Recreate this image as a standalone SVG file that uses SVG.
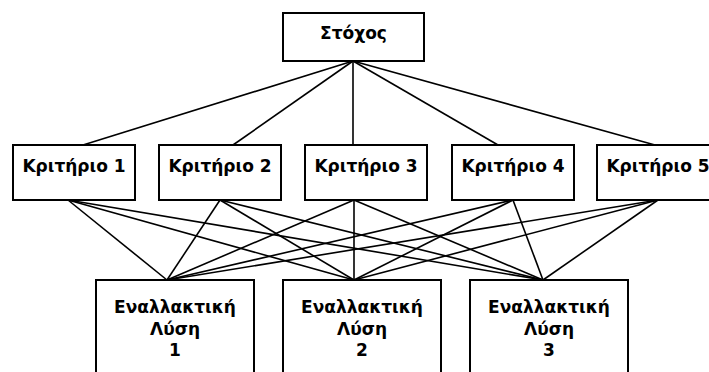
<svg xmlns="http://www.w3.org/2000/svg" width="709" height="372" viewBox="0 0 709 372">
<style>
.box{fill:#fff;stroke:#000;stroke-width:2}
.t{font-family:"DejaVu Sans",Verdana,sans-serif;font-weight:bold;font-size:17px;text-anchor:middle;fill:#000}
.c line{stroke:#000;stroke-width:1.6}
</style>
<rect width="709" height="372" fill="#fff"/>
<g class="c" id="connectors">
<line x1="353" y1="61" x2="83" y2="145"/>
<line x1="353" y1="61" x2="233" y2="145"/>
<line x1="353" y1="61" x2="353" y2="145"/>
<line x1="353" y1="61" x2="498" y2="145"/>
<line x1="353" y1="61" x2="655" y2="145"/>
<line x1="68" y1="200" x2="167" y2="280"/>
<line x1="68" y1="200" x2="354" y2="280"/>
<line x1="68" y1="200" x2="543" y2="280"/>
<line x1="220" y1="200" x2="167" y2="280"/>
<line x1="220" y1="200" x2="354" y2="280"/>
<line x1="220" y1="200" x2="543" y2="280"/>
<line x1="354" y1="200" x2="167" y2="280"/>
<line x1="354" y1="200" x2="354" y2="280"/>
<line x1="354" y1="200" x2="543" y2="280"/>
<line x1="513" y1="200" x2="167" y2="280"/>
<line x1="513" y1="200" x2="354" y2="280"/>
<line x1="513" y1="200" x2="543" y2="280"/>
<line x1="658" y1="200" x2="167" y2="280"/>
<line x1="658" y1="200" x2="354" y2="280"/>
<line x1="658" y1="200" x2="543" y2="280"/>
</g>
<g id="goal"><rect class="box" x="283" y="13" width="141" height="48"/><text class="t" x="353.5" y="39">Στόχος</text></g>
<g id="crit1"><rect class="box" x="13" y="145" width="122" height="55"/><text class="t" x="74" y="172">Κριτήριο 1</text></g>
<g id="crit2"><rect class="box" x="159" y="145" width="122" height="55"/><text class="t" x="220" y="172">Κριτήριο 2</text></g>
<g id="crit3"><rect class="box" x="305" y="145" width="122" height="55"/><text class="t" x="366" y="172">Κριτήριο 3</text></g>
<g id="crit4"><rect class="box" x="452" y="145" width="122" height="55"/><text class="t" x="513" y="172">Κριτήριο 4</text></g>
<g id="crit5"><rect class="box" x="597" y="145" width="122" height="55"/><text class="t" x="658" y="172">Κριτήριο 5</text></g>
<g id="alt1"><rect class="box" x="96" y="280" width="158" height="100"/><text class="t" x="175" y="313">Εναλλακτική<tspan x="175" y="334.5">Λύση</tspan><tspan x="175" y="356">1</tspan></text></g>
<g id="alt2"><rect class="box" x="283" y="280" width="158" height="100"/><text class="t" x="362" y="313">Εναλλακτική<tspan x="362" y="334.5">Λύση</tspan><tspan x="362" y="356">2</tspan></text></g>
<g id="alt3"><rect class="box" x="470" y="280" width="158" height="100"/><text class="t" x="549" y="313">Εναλλακτική<tspan x="549" y="334.5">Λύση</tspan><tspan x="549" y="356">3</tspan></text></g>
</svg>
